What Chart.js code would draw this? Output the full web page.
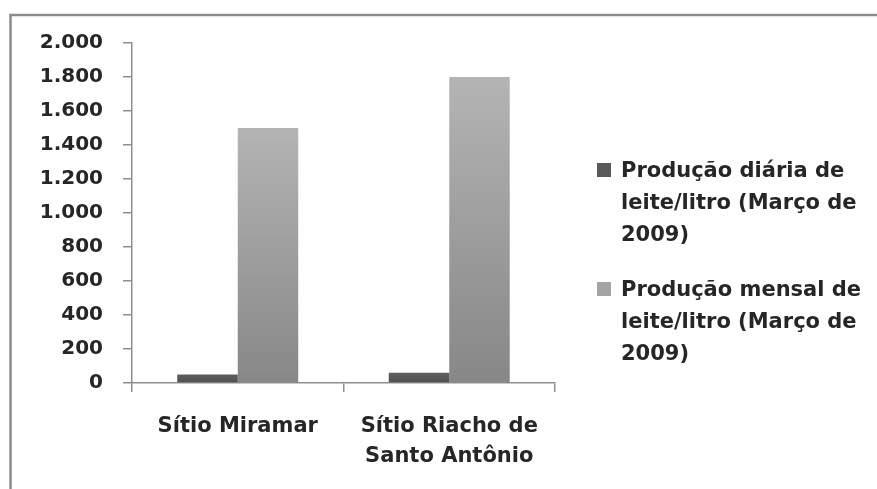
<!DOCTYPE html>
<html>
<head>
<meta charset="utf-8">
<script src="https://cdn.jsdelivr.net/npm/chart.js@4/dist/chart.umd.min.js"></script>
<style>
  html, body { margin: 0; padding: 0; background: #ffffff; }
  #wrap { position: relative; width: 877px; height: 489px; }
  canvas { display: block; }
</style>
</head>
<body>
<div id="wrap"><canvas id="chart" width="877" height="489"></canvas></div>
<script>
// Produção de leite por sítio (Março de 2009)
const categories = ['Sítio Miramar', ['Sítio Riacho de', 'Santo Antônio']];
const seriesNames = [
  ['Produção diária de', 'leite/litro (Março de', '2009)'],
  ['Produção mensal de', 'leite/litro (Março de', '2009)']
];
const dailyLitres = [50, 60];
const monthlyLitres = [1500, 1800];
const yTicks = [0, 200, 400, 600, 800, 1000, 1200, 1400, 1600, 1800, 2000];

const FONT = "'DejaVu Sans', sans-serif";
const TEXT = '#262626';
const AXIS = '#8f8f8f';
const swatches = ['#5a5a5a', '#a4a4a4'];

// vertical gradient running over the height of each bar
function barGradient(top, bottom) {
  return function (ctx) {
    const chart = ctx.chart;
    const ys = chart.scales.y;
    if (!ys || ctx.raw == null) return top;
    const y0 = ys.getPixelForValue(0);
    const y1 = ys.getPixelForValue(ctx.raw);
    if (!isFinite(y0) || !isFinite(y1) || y0 === y1) return top;
    const g = chart.ctx.createLinearGradient(0, y1, 0, y0);
    g.addColorStop(0, top);
    g.addColorStop(1, bottom);
    return g;
  };
}

function formatThousands(v) {
  return String(v).replace(/\B(?=(\d{3})+(?!\d))/g, '.');
}

// outer frame and the multi-line legend on the right
const framePlugin = {
  id: 'frame',
  beforeDraw(chart) {
    const c = chart.ctx;
    c.save();
    c.strokeStyle = '#8a8a8a';
    c.lineWidth = 2.5;
    c.beginPath();
    c.moveTo(10.5, chart.height);
    c.lineTo(10.5, 15);
    c.lineTo(chart.width, 15);
    c.stroke();
    c.restore();
  }
};

const legendPlugin = {
  id: 'sideLegend',
  afterDraw(chart) {
    const c = chart.ctx;
    const x0 = 597, tx = 621, lineGap = 32;
    const firstBaselines = [177, 296];
    c.save();
    c.font = 'bold 21px ' + FONT;
    c.textBaseline = 'alphabetic';
    chart.data.datasets.forEach((ds, i) => {
      const base = firstBaselines[i];
      c.fillStyle = swatches[i];
      c.fillRect(x0, base - 14, 14, 14);
      c.fillStyle = TEXT;
      seriesNames[i].forEach((line, j) => {
        c.fillText(line, tx, base + j * lineGap);
      });
    });
    c.restore();
  }
};

new Chart(document.getElementById('chart'), {
  type: 'bar',
  data: {
    labels: categories,
    datasets: [
      {
        label: seriesNames[0].join(' '),
        data: dailyLitres,
        backgroundColor: barGradient('#5f5f5f', '#4f4f4f'),
        borderWidth: 0
      },
      {
        label: seriesNames[1].join(' '),
        data: monthlyLitres,
        backgroundColor: barGradient('#b4b4b4', '#878787'),
        borderWidth: 0
      }
    ]
  },
  plugins: [framePlugin, legendPlugin],
  options: {
    responsive: false,
    animation: false,
    layout: { padding: { top: 43, right: 322, left: 0, bottom: 0 } },
    plugins: {
      legend: { display: false },
      tooltip: { enabled: false }
    },
    datasets: {
      bar: { categoryPercentage: 0.572, barPercentage: 1.0 }
    },
    scales: {
      x: {
        grid: { display: true, drawOnChartArea: false, offset: true, tickLength: 9, color: AXIS, lineWidth: 1.5 },
        border: { display: true, color: AXIS, width: 1.5 },
        ticks: {
          color: TEXT,
          font: { family: FONT, size: 21, weight: 'bold', lineHeight: 1.4 },
          padding: 20,
          maxRotation: 0,
          autoSkip: false
        },
        afterFit(s) { s.height = 106; }
      },
      y: {
        min: 0,
        max: 2000,
        afterBuildTicks(s) { s.ticks = yTicks.map(v => ({ value: v })); },
        grid: { display: true, drawOnChartArea: false, tickLength: 9, color: AXIS, lineWidth: 1.5 },
        border: { display: true, color: AXIS, width: 1.5 },
        ticks: {
          color: TEXT,
          font: { family: FONT, size: 20, weight: 'bold' },
          padding: 20,
          callback: v => formatThousands(v)
        },
        afterFit(s) { s.width = 132; }
      }
    }
  }
});
</script>
</body>
</html>
